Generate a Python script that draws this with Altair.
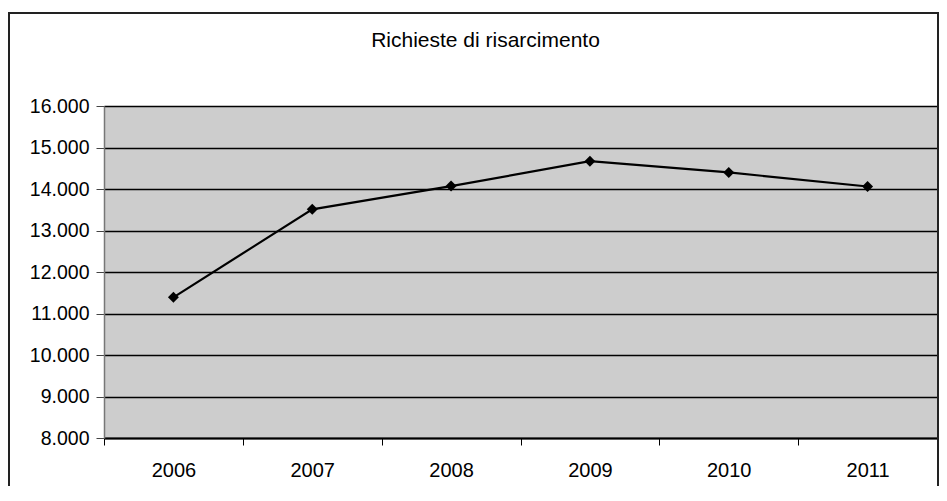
import altair as alt
import pandas as pd

years = ["2006", "2007", "2008", "2009", "2010", "2011"]
richieste = [11390, 13510, 14070, 14670, 14400, 14060]
y_ticks = [8000, 9000, 10000, 11000, 12000, 13000, 14000, 15000, 16000]
title_text = ["Richieste di risarcimento"]

df = pd.DataFrame({"anno": years, "richieste": richieste})
df_title = pd.DataFrame({"t": title_text})

W, H = 833, 332
FONT = "Liberation Sans"

x_enc = alt.X(
    "anno:N",
    sort=years,
    scale=alt.Scale(paddingInner=0, paddingOuter=0),
    axis=alt.Axis(
        title=None, labelAngle=0, tickBand="extent", grid=False,
        domainColor="black", domainWidth=2, tickColor="black", tickSize=7,
        tickWidth=1, labelFont=FONT, labelFontSize=20, labelColor="black",
        labelPadding=15,
    ),
)
y_enc = alt.Y(
    "richieste:Q",
    scale=alt.Scale(domain=[8000, 16000], nice=False, zero=False),
    axis=alt.Axis(
        title=None, values=y_ticks,
        labelExpr="replace(format(datum.value, ',d'), ',', '.')",
        grid=True, gridColor="black", gridWidth=1.3,
        domainColor="#777", domainWidth=1.5, tickColor="#444", tickSize=8,
        labelFont=FONT, labelFontSize=19.5, labelColor="black", labelPadding=7,
    ),
)

line = alt.Chart(df).mark_line(color="black", strokeWidth=2.2).encode(x=x_enc, y=y_enc)
pts = alt.Chart(df).mark_point(
    shape="diamond", filled=True, color="black", size=120, opacity=1
).encode(x=x_enc, y=y_enc)

frame = alt.Chart(df).mark_rect(
    fill=None, stroke="#222", strokeWidth=2, clip=False
).encode(
    x=alt.value(-95), x2=alt.value(W + 1), y=alt.value(-93), y2=alt.value(H + 120)
)

title = alt.Chart(df_title).mark_text(
    font=FONT, fontSize=21, color="black", align="center", baseline="alphabetic",
    clip=False,
).encode(text="t:N", x=alt.value(W / 2 - 35), y=alt.value(-59))

chart = alt.layer(frame, line, pts, title).properties(
    width=W,
    height=H,
    autosize=alt.AutoSizeParams(type="none"),
    padding={"left": 96, "top": 98, "right": 2, "bottom": 48},
).configure(background="white").configure_view(
    fill="#cdcdcd", stroke="#333", strokeWidth=1
)

chart.save("out.html", embed_options={"renderer": "svg", "actions": False})
